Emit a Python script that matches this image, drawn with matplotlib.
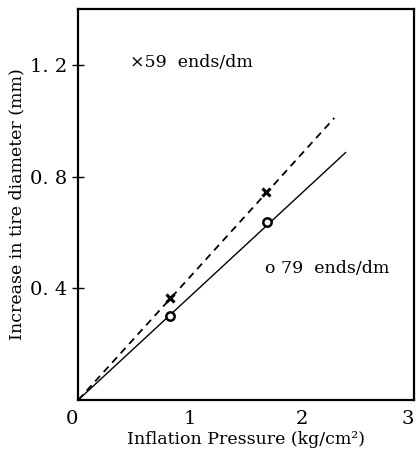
import numpy as np
import matplotlib
matplotlib.use("Agg")
import matplotlib.pyplot as plt

# data
p59 = [0.82, 1.68]        # inflation pressure, x markers
d59 = [0.364, 0.746]      # increase in diameter
p79 = [0.82, 1.69]        # o markers
d79 = [0.300, 0.636]
fit59_x = [0.0, 2.29]
fit59_y = [0.0, 1.01]
fit79_x = [0.0, 2.39]
fit79_y = [0.0, 0.886]

plt.rcParams['font.family'] = ['DejaVu Serif']

fig = plt.figure(figsize=(4.18, 4.51), dpi=100)
ax = fig.add_axes([0.187, 0.113, 0.803, 0.867])

ax.plot(fit59_x, fit59_y, color='black', lw=1.3, ls=(0, (4, 3)))
ax.plot(fit79_x, fit79_y, color='black', lw=1.0)
ax.plot(p59, d59, 'x', color='black', ms=6, mew=2.2)
ax.plot(p79, d79, 'o', mfc='white', mec='black', ms=6, mew=1.8)

ax.text(0.46, 1.21, '\u00d759  ends/dm', fontsize=12.5, va='center')
ax.text(1.67, 0.47, 'o 79  ends/dm', fontsize=12.5, va='center')

ax.set_xlim(0, 3)
ax.set_ylim(0, 1.4)
ax.set_xticks([0, 1, 2, 3])
ax.set_xticklabels(['0', '1', '2', '3'])
ax.set_yticks([0.4, 0.8, 1.2])
ax.set_yticklabels(['0. 4', '0. 8', '1. 2'])
ax.tick_params(axis='y', direction='inout', length=8, width=1, labelsize=14)
ax.tick_params(axis='x', length=0, labelsize=14, pad=7)
ax.get_xticklabels()[0].set_horizontalalignment('right')
ax.get_xticklabels()[-1].set_horizontalalignment('right')
for s in ax.spines.values():
    s.set_linewidth(1.6)

ax.set_xlabel('Inflation Pressure (kg/cm\u00b2)', fontsize=12.5, labelpad=2)
ax.set_ylabel('Increase in tire diameter (mm)', fontsize=12.5, labelpad=4)

fig.savefig('out.png', dpi=100)
